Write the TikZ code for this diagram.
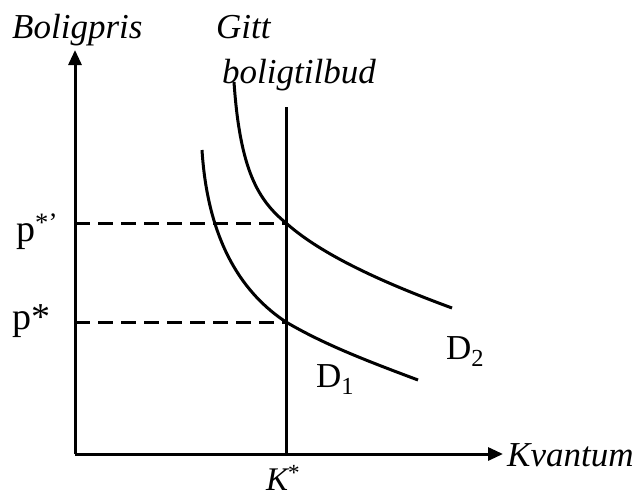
\documentclass[tikz,border=0pt]{standalone}
\usepackage{fontspec}
\setmainfont{Liberation Serif}
\usetikzlibrary{arrows.meta}
\begin{document}
\begin{tikzpicture}[x=1pt,y=-1pt,
  axis/.style={line width=3pt,-{Triangle[length=15pt,width=13pt]}},
  curve/.style={line width=3pt},
  guide/.style={line width=3pt,dash pattern=on 15pt off 8pt},
  lab/.style={inner sep=0pt,font=\fontsize{35}{40}\selectfont},
  plab/.style={inner sep=0pt,font=\fontsize{38}{44}\selectfont}]
\useasboundingbox (0,0) rectangle (638,499);
\coordinate (O) at (75,454);
\coordinate (ytop) at (75,50);
\coordinate (xend) at (503,454);
\coordinate (ktop) at (286,107);
\coordinate (kbot) at (286,454);
\coordinate (e2) at (286,223);
\coordinate (e1) at (286,322);
\coordinate (a2) at (75,223);
\coordinate (a1) at (75,322);
\draw[axis] (O) -- (ytop);
\draw[axis] (O) -- (xend);
\draw[curve] (ktop) -- (kbot);
\draw[guide] (a2) -- (e2);
\draw[guide] (a1) -- (e1);
% D2
\coordinate (d2s) at (234,82);
\coordinate (d2e) at (452,308);
\draw[curve] (d2s) .. controls (240,170) and (258,200) .. (e2)
  .. controls (325,258) and (395,287) .. (d2e);
% D1
\coordinate (d1s) at (202,150);
\coordinate (d1e) at (418,380);
\draw[curve] (d1s) .. controls (208,245) and (245,295) .. (e1)
  .. controls (325,345) and (370,362) .. (d1e);
% labels
\node[lab,anchor=base west] (ylab) at (12,38) {\itshape Boligpris};
\node[lab,anchor=base west] (gitt) at (216,38) {\itshape Gitt};
\node[lab,anchor=base west] (tilbud) at (222,83) {\itshape boligtilbud};
\node[lab,anchor=base west] (xlab) at (507,466) {\itshape Kvantum};
\node[lab,anchor=base west,font=\fontsize{33}{38}\selectfont] (klab) at (266,490) {\itshape K\textsuperscript{\upshape *}};
\node[plab,anchor=base west] (p2) at (16,241) {p\textsuperscript{*’}};
\node[plab,anchor=base west] (p1) at (12,329) {p*};
\node[lab,anchor=base west] (D1) at (316,387) {D\textsubscript{1}};
\node[lab,anchor=base west] (D2) at (446,359) {D\textsubscript{2}};
\end{tikzpicture}
\end{document}
